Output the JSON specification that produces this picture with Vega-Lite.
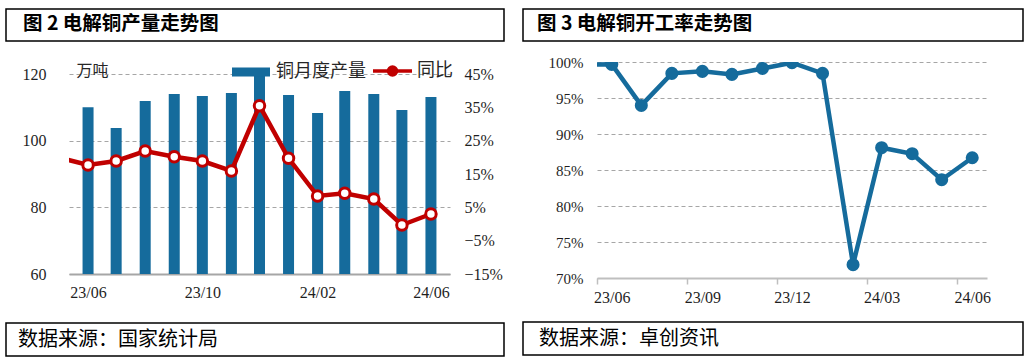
{
  "$schema": "https://vega.github.io/schema/vega-lite/v6.json",
  "padding": {"left": 5, "top": 8, "right": 5, "bottom": 2},
  "background": "white",
  "config": {
    "view": {"stroke": null},
    "font": "Noto Sans CJK SC",
    "axis": {"labelFont": "Liberation Serif", "labelColor": "#1f1f1f", "labelFontSize": 16, "titleFont": "Noto Sans CJK SC", "titleFontWeight": "normal"}
  },
  "datasets": {
    "copper": [
      {"date": "2023/05/01", "output": null, "yoy": 0.199},
      {"date": "2023/06/01", "output": 110.0, "yoy": 0.177},
      {"date": "2023/07/01", "output": 103.8, "yoy": 0.189},
      {"date": "2023/08/01", "output": 111.9, "yoy": 0.219},
      {"date": "2023/09/01", "output": 114.0, "yoy": 0.202},
      {"date": "2023/10/01", "output": 113.4, "yoy": 0.189},
      {"date": "2023/11/01", "output": 114.3, "yoy": 0.159},
      {"date": "2023/12/01", "output": 121.5, "yoy": 0.355},
      {"date": "2024/01/01", "output": 113.7, "yoy": 0.197},
      {"date": "2024/02/01", "output": 108.3, "yoy": 0.084},
      {"date": "2024/03/01", "output": 114.9, "yoy": 0.092},
      {"date": "2024/04/01", "output": 114.0, "yoy": 0.075},
      {"date": "2024/05/01", "output": 109.2, "yoy": -0.003},
      {"date": "2024/06/01", "output": 113.1, "yoy": 0.030}
    ],
    "util": [
      {"date": "2023/05/01", "rate": 0.996},
      {"date": "2023/06/01", "rate": 0.9967},
      {"date": "2023/07/01", "rate": 0.9397},
      {"date": "2023/08/01", "rate": 0.9842},
      {"date": "2023/09/01", "rate": 0.987},
      {"date": "2023/10/01", "rate": 0.9828},
      {"date": "2023/11/01", "rate": 0.991},
      {"date": "2023/12/01", "rate": 0.999},
      {"date": "2024/01/01", "rate": 0.9842},
      {"date": "2024/02/01", "rate": 0.7185},
      {"date": "2024/03/01", "rate": 0.881},
      {"date": "2024/04/01", "rate": 0.8726},
      {"date": "2024/05/01", "rate": 0.8365},
      {"date": "2024/06/01", "rate": 0.867}
    ]
  },
  "spacing": 17,
  "resolve": {"scale": {"color": "independent"}, "legend": {"color": "independent"}},
  "hconcat": [
    {
      "spacing": 20,
      "resolve": {"scale": {"color": "independent"}, "legend": {"color": "independent"}},
      "vconcat": [
        {
          "width": 498, "height": 32,
          "data": {"values": []},
          "mark": "rect",
          "encoding": {},
          "view": {"stroke": "black", "strokeWidth": 1.5},
          "title": {"text": "图 2 电解铜产量走势图", "anchor": "start", "orient": "bottom", "frame": "group", "offset": -26, "baseline": "top", "dx": 17, "fontSize": 19.5, "fontWeight": "bold", "color": "black", "font": "Noto Sans CJK SC"}
        },
        {
          "spacing": 0,
          "resolve": {"scale": {"color": "independent"}, "legend": {"color": "independent"}},
          "hconcat": [
            {"width": 1, "height": 1, "data": {"values": []}, "mark": "rect", "encoding": {}},
            {
              "width": 381, "height": 200,
              "data": {"name": "copper"},
              "encoding": {
                "x": {
                  "field": "date", "type": "temporal",
                  "scale": {"domain": [{"year": 2023, "month": 5, "date": 17}, {"year": 2024, "month": 6, "date": 16}]},
                  "axis": {
                    "values": [{"year": 2023, "month": 6, "date": 1}, {"year": 2023, "month": 10, "date": 1}, {"year": 2024, "month": 2, "date": 1}, {"year": 2024, "month": 6, "date": 1}],
                    "format": "%y/%m", "domainColor": "#A6A6A6", "domainWidth": 2, "ticks": false, "grid": false, "labelPadding": 10, "minExtent": 28, "title": null
                  }
                }
              },
              "layer": [
                {
                  "mark": {"type": "bar", "size": 11, "clip": true},
                  "encoding": {
                    "y": {
                      "field": "output", "type": "quantitative",
                      "scale": {"domain": [60, 120], "nice": false, "zero": false},
                      "axis": {
                        "values": [60, 80, 100, 120], "grid": true, "gridColor": "#A6A6A6", "gridDash": [4, 3], "domain": false, "ticks": false,
                        "labelPadding": 23, "minExtent": 62,
                        "title": "万吨", "titleAngle": 0, "titleX": 7, "titleY": -4, "titleAlign": "left", "titleBaseline": "middle", "titleFontSize": 16, "titleColor": "#262626"
                      }
                    },
                    "color": {
                      "datum": "铜月度产量", "type": "nominal",
                      "scale": {"domain": ["铜月度产量", "同比"], "range": ["#156B9C", "#C00000"]},
                      "legend": {
                        "title": null, "orient": "none", "legendX": 159, "legendY": -12, "direction": "horizontal",
                        "labelFont": "Noto Sans CJK SC", "labelFontSize": 18, "labelColor": "#262626",
                        "symbolSize": 100, "labelOffset": 30, "columnPadding": 0, "padding": 0,
                        "encode": {
                          "symbols": {
                            "update": {
                              "shape": {"signal": "datum.value === '同比' ? 'M-1,0H2.1M3.7,0H6.8M3.7,0A0.8,0.8 0 1 1 2.1,0A0.8,0.8 0 1 1 3.7,0Z' : 'M-1,-0.9H6.6V0.9H-1Z'"},
                              "fill": {"signal": "datum.value === '同比' ? '#ffffff' : '#156B9C'"},
                              "stroke": {"signal": "datum.value === '同比' ? '#C00000' : '#156B9C'"},
                              "strokeWidth": {"signal": "datum.value === '同比' ? 3.5 : 0"},
                              "opacity": {"value": 1}
                            }
                          }
                        }
                      }
                    }
                  }
                },
                {
                  "encoding": {
                    "y": {
                      "field": "yoy", "type": "quantitative",
                      "scale": {"domain": [-0.15, 0.45], "nice": false, "zero": false},
                      "axis": {
                        "orient": "right", "values": [-0.15, -0.05, 0.05, 0.15, 0.25, 0.35, 0.45], "format": ".0%",
                        "grid": false, "domain": false, "ticks": false, "labelPadding": 14, "title": null
                      }
                    }
                  },
                  "layer": [
                    {
                      "mark": {"type": "line", "clip": true, "strokeWidth": 4.5},
                      "encoding": {"color": {"datum": "同比", "type": "nominal"}}
                    },
                    {
                      "mark": {"type": "point", "clip": true, "filled": true, "fill": "#ffffff", "stroke": "#C00000", "strokeWidth": 3, "size": 110, "opacity": 1}
                    }
                  ]
                }
              ],
              "resolve": {"scale": {"y": "independent"}, "axis": {"y": "independent"}}
            }
          ]
        },
        {
          "width": 498, "height": 33,
          "data": {"values": []},
          "mark": "rect",
          "encoding": {},
          "view": {"stroke": "black", "strokeWidth": 1.5},
          "title": {"text": "数据来源：国家统计局", "anchor": "start", "orient": "bottom", "frame": "group", "offset": -26, "baseline": "top", "dx": 12, "fontSize": 20, "fontWeight": "normal", "color": "black", "font": "Noto Sans CJK SC"}
        }
      ]
    },
    {
      "spacing": 13,
      "vconcat": [
        {
          "width": 500, "height": 32,
          "data": {"values": []},
          "mark": "rect",
          "encoding": {},
          "view": {"stroke": "black", "strokeWidth": 1.5},
          "title": {"text": "图 3 电解铜开工率走势图", "anchor": "start", "orient": "bottom", "frame": "group", "offset": -26, "baseline": "top", "dx": 14, "fontSize": 19.5, "fontWeight": "bold", "color": "black", "font": "Noto Sans CJK SC"}
        },
        {
          "spacing": 0,
          "hconcat": [
            {"width": 1, "height": 1, "data": {"values": []}, "mark": "rect", "encoding": {}},
            {
              "width": 390, "height": 216,
              "data": {"name": "util"},
              "encoding": {
                "x": {
                  "field": "date", "type": "temporal",
                  "scale": {"domain": [{"year": 2023, "month": 5, "date": 17}, {"year": 2024, "month": 6, "date": 16}]},
                  "axis": {
                    "values": [{"year": 2023, "month": 6, "date": 1}, {"year": 2023, "month": 9, "date": 1}, {"year": 2023, "month": 12, "date": 1}, {"year": 2024, "month": 3, "date": 1}, {"year": 2024, "month": 6, "date": 1}],
                    "format": "%y/%m", "tickOffset": -15, "labelOffset": 15, "ticks": true, "tickSize": 6, "tickColor": "#BFBFBF", "tickWidth": 1.5,
                    "domainColor": "#BFBFBF", "domainWidth": 2, "grid": false, "labelPadding": 5, "minExtent": 30, "title": null
                  }
                },
                "y": {
                  "field": "rate", "type": "quantitative",
                  "scale": {"domain": [0.7, 1.0], "nice": false, "zero": false},
                  "axis": {
                    "values": [0.7, 0.75, 0.8, 0.85, 0.9, 0.95, 1.0], "format": ".0%", "grid": true, "gridColor": "#A6A6A6", "gridDash": [4, 3],
                    "domain": false, "ticks": false, "labelPadding": 14, "minExtent": 73, "title": null, "labelFontSize": 15
                  }
                }
              },
              "layer": [
                {"mark": {"type": "line", "clip": true, "strokeWidth": 4.5, "color": "#156B9C"}},
                {"mark": {"type": "point", "clip": true, "filled": true, "size": 170, "opacity": 1, "color": "#156B9C"}}
              ]
            }
          ]
        },
        {
          "width": 500, "height": 33,
          "data": {"values": []},
          "mark": "rect",
          "encoding": {},
          "view": {"stroke": "black", "strokeWidth": 1.5},
          "title": {"text": "数据来源：卓创资讯", "anchor": "start", "orient": "bottom", "frame": "group", "offset": -26, "baseline": "top", "dx": 16, "fontSize": 20, "fontWeight": "normal", "color": "black", "font": "Noto Sans CJK SC"}
        }
      ]
    }
  ]
}
